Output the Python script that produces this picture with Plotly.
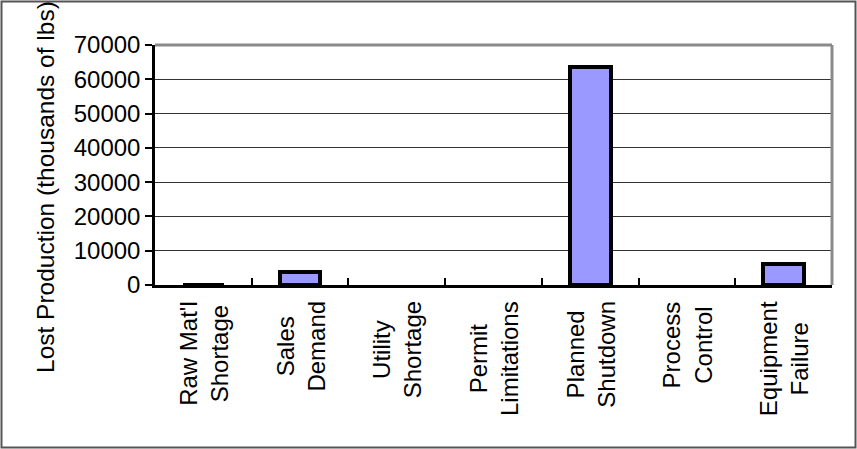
import plotly.graph_objects as go

categories = ["Raw Mat'l<br>Shortage", "Sales<br>Demand", "Utility<br>Shortage",
              "Permit<br>Limitations", "Planned<br>Shutdown", "Process<br>Control",
              "Equipment<br>Failure"]
values = [100, 3800, 0, 0, 63700, 0, 6100]
y_ticks = [0, 10000, 20000, 30000, 40000, 50000, 60000, 70000]
y_title = "Lost Production (thousands of lbs)"

W, H = 857, 449
L, R, T, B = 155, 25, 45, 164
pw, ph = W - L - R, H - T - B

FONT = "Liberation Sans, Arial, sans-serif"

# zero-valued categories draw no bar
bar_y = [v if v else None for v in values]

fig = go.Figure()
fig.add_trace(go.Bar(
    x=list(range(len(categories))), y=bar_y, width=0.42,
    marker=dict(color="#9999FF", line=dict(color="black", width=4)),
))

annotations = []
for i, c in enumerate(categories):
    annotations.append(dict(
        x=i, xref="x", y=0, yref="paper", yanchor="top", xanchor="center",
        yshift=-14, text=c, textangle=-90, showarrow=False, align="center",
        font=dict(family=FONT, size=24, color="black")))
annotations.append(dict(
    x=(45 - L) / pw, xref="paper", y=(H - B - 187) / ph, yref="paper",
    xanchor="center", yanchor="middle", text=y_title, textangle=-90,
    showarrow=False, font=dict(family=FONT, size=24.5, color="black")))

shapes = [
    dict(type="line", xref="paper", yref="paper", x0=0, x1=1, y0=1, y1=1,
         line=dict(color="#8a8a8a", width=3)),
    dict(type="line", xref="paper", yref="paper", x0=1, x1=1, y0=0, y1=1,
         line=dict(color="#8a8a8a", width=3)),
    dict(type="rect", xref="paper", yref="paper",
         x0=(1.5 - L) / pw, x1=(W - 1.5 - L) / pw,
         y0=(H - B - (H - 1.5)) / ph, y1=(H - B - 1.5) / ph,
         line=dict(color="#555555", width=2)),
]

fig.update_layout(
    width=W, height=H, margin=dict(l=L, r=R, t=T, b=B, pad=0),
    paper_bgcolor="white", plot_bgcolor="white", showlegend=False,
    annotations=annotations, shapes=shapes,
    font=dict(family=FONT, size=24, color="black"),
    xaxis=dict(range=[-0.5, len(categories) - 0.5], tickmode="array",
               tickvals=[i + 0.5 for i in range(len(categories) - 1)],
               ticktext=[""] * (len(categories) - 1),
               ticks="inside", ticklen=7, tickwidth=1.5, tickcolor="black",
               showgrid=False, showline=True, linecolor="black", linewidth=2.5,
               zeroline=False),
    yaxis=dict(range=[0, 70000], tickmode="array", tickvals=y_ticks,
               ticktext=[str(v) for v in y_ticks],
               ticks="outside", ticklen=7,
               tickwidth=1.5, tickcolor="black", showline=True, linecolor="black",
               linewidth=2.5, showgrid=True, gridcolor="#333333", gridwidth=1.2,
               zeroline=False, tickfont=dict(family=FONT, size=24, color="black")),
    bargap=0,
)

fig.write_html("out.html")
